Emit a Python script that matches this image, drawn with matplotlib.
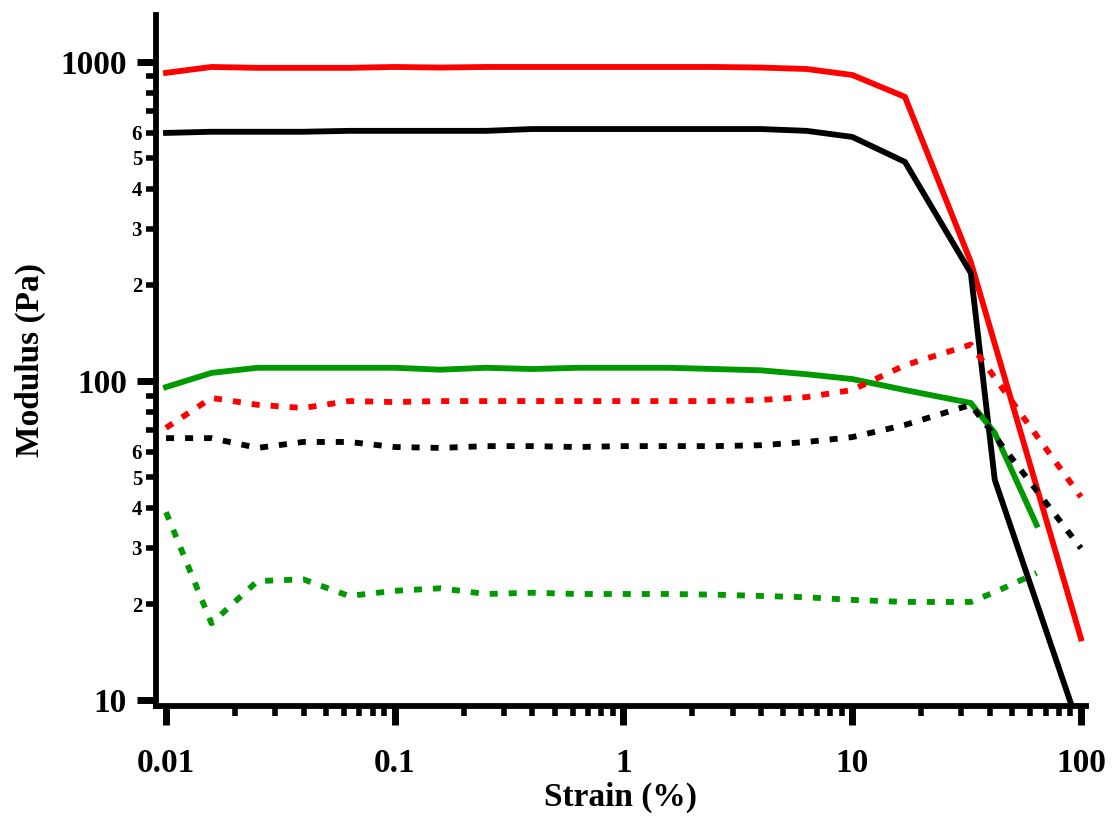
import numpy as np
import matplotlib
matplotlib.use('Agg')
import matplotlib.pyplot as plt
from matplotlib.ticker import FixedLocator, FuncFormatter, NullFormatter

plt.rcParams['font.family'] = ['Liberation Serif', 'DejaVu Serif']
plt.rcParams['font.weight'] = 'bold'

# strain points (%)
strain = [0.01, 0.0158, 0.0251, 0.0398, 0.0631, 0.1, 0.158, 0.251, 0.398,
          0.631, 1.0, 1.58, 2.51, 3.98, 6.31, 10.0, 17.0, 33.0]

# red solid / dotted
red_solid_x = strain + [100.0]
red_solid = [924, 964, 958, 958, 958, 964, 960, 964, 964, 964, 964, 964, 964,
             960, 950, 910, 777, 236, 15.6]
red_dot_x = strain + [100.0]
red_dot = [71.3, 88.5, 84.2, 82.3, 86.5, 85.9, 86.5, 86.5, 86.5, 86.5, 86.5,
           86.5, 86.5, 87.2, 89.0, 93.7, 112, 130, 43.3]

# black solid / dotted
black_solid_x = strain + [42.0, 90.0]
black_solid = [599, 604, 604, 604, 608, 608, 608, 608, 616, 616, 616, 616, 616,
               616, 608, 582, 486, 218, 49, 9.85]
black_dot_x = strain + [100.0]
black_dot = [66.2, 66.2, 61.7, 64.4, 64.4, 62.1, 61.7, 62.5, 62.5, 62.1, 62.5,
             62.5, 62.5, 62.9, 64.4, 66.7, 72.8, 84.2, 29.9]

# green solid / dotted
green_solid_x = strain + [42.0, 64.0]
green_solid = [95.7, 106, 110, 110, 110, 110, 108.5, 110, 109, 110, 110, 110,
               109, 108, 105, 101.4, 93.7, 85.3, 68.7, 35.4]
green_dot_x = strain + [42.0, 64.0]
green_dot = [38.8, 17.4, 23.6, 23.9, 21.2, 22.0, 22.4, 21.5, 21.7, 21.5, 21.5,
             21.5, 21.4, 21.2, 21.0, 20.6, 20.3, 20.3, 21.8, 25.0]

y_minor = [2, 3, 4, 5, 6, 7, 8, 9]
y_minor_labelled = [2, 3, 4, 5, 6]

fig = plt.figure(figsize=(11.12, 8.18), dpi=100)
ax = fig.add_axes([0.1403, 0.1369, 0.9766 - 0.1403, 0.9817 - 0.1369])

lw = 4.2
dash = (1.38, 1.88)
ax.plot(red_solid_x, red_solid, color='#ff0000', lw=lw)
ax.plot(black_solid_x, black_solid, color='black', lw=lw)
ax.plot(green_solid_x, green_solid, color='#009900', lw=lw)
ax.plot(red_dot_x, red_dot, color='#ff0000', lw=lw, dashes=dash, dash_capstyle='butt')
ax.plot(black_dot_x, black_dot, color='black', lw=lw, dashes=dash, dash_capstyle='butt')
ax.plot(green_dot_x, green_dot, color='#009900', lw=lw, dashes=dash, dash_capstyle='butt')

ax.set_xscale('log')
ax.set_yscale('log')
ax.set_xlim(0.00904, 105.2)
ax.set_ylim(9.58, 1403)

for s in ['top', 'right']:
    ax.spines[s].set_visible(False)
for s in ['left', 'bottom']:
    ax.spines[s].set_linewidth(4.2)

ax.xaxis.set_major_locator(FixedLocator([0.01, 0.1, 1, 10, 100]))
ax.xaxis.set_major_formatter(FuncFormatter(lambda v, p: '%g' % v))
xm = [m * 10.0 ** e for e in range(-2, 2) for m in y_minor]
ax.xaxis.set_minor_locator(FixedLocator(xm))
ax.xaxis.set_minor_formatter(NullFormatter())

ax.yaxis.set_major_locator(FixedLocator([10, 100, 1000]))
ax.yaxis.set_major_formatter(FuncFormatter(lambda v, p: '%g' % v))
ym = [m * 10.0 ** e for e in range(1, 3) for m in y_minor]
ax.yaxis.set_minor_locator(FixedLocator(ym))


def minor_label(v, p):
    m = int(round(v / 10 ** np.floor(np.log10(v) + 1e-9)))
    return str(m) if m in y_minor_labelled else ''


ax.yaxis.set_minor_formatter(FuncFormatter(minor_label))

ax.tick_params(which='major', length=14, width=5, direction='out')
ax.tick_params(which='minor', length=7, width=4, direction='out')
ax.tick_params(axis='x', which='major', labelsize=24, pad=16)
ax.tick_params(axis='y', which='major', labelsize=24, pad=7)
ax.tick_params(axis='y', which='minor', labelsize=15, pad=3)

ax.set_xlabel('Strain (%)', fontsize=24, fontweight='bold', labelpad=2)
ax.set_ylabel('Modulus (Pa)', fontsize=24, fontweight='bold', labelpad=10)

fig.savefig('out.png', dpi=100)
